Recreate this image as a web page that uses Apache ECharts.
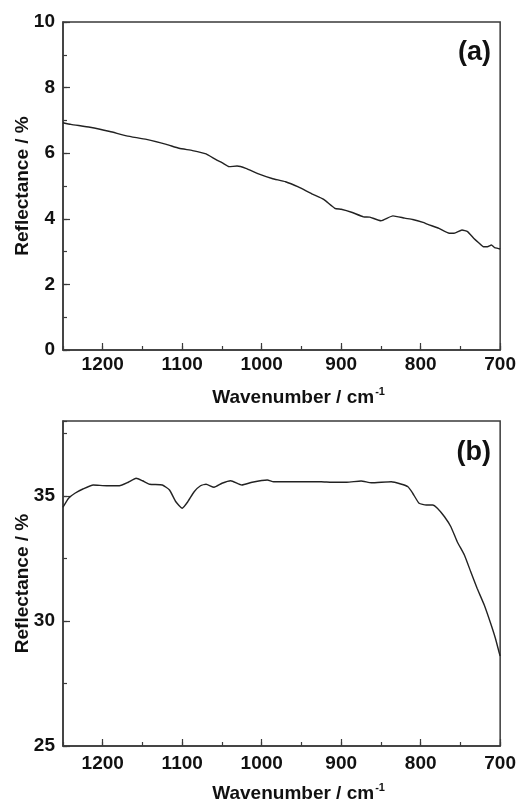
<!DOCTYPE html>
<html>
<head>
<meta charset="utf-8">
<title>Reflectance spectra</title>
<script src="https://cdn.jsdelivr.net/npm/echarts@6/dist/echarts.min.js"></script>
<style>
    html, body { margin: 0; padding: 0; background: #fff; }
    #chart { width: 519px; height: 805px; }
</style>
</head>
<body>
<div id="chart"></div>
<script>
// (a) 光谱 — 波数 / 反射率
var wavenumberA = [1250, 1240, 1216, 1191, 1170, 1145, 1120, 1104, 1087, 1070, 1058, 1050, 1041, 1031, 1020, 1004,
    987, 970, 954, 937, 922, 908, 900, 887, 872, 864, 850, 835, 820, 810, 797, 791, 777, 764, 758, 748, 741,
    733, 727, 721, 716, 711, 707, 703, 700];
var reflectanceA = [6.93, 6.88, 6.79, 6.66, 6.53, 6.42, 6.27, 6.15, 6.08, 5.98, 5.81, 5.71, 5.59, 5.61, 5.54, 5.37,
    5.23, 5.13, 4.97, 4.76, 4.59, 4.32, 4.29, 4.20, 4.06, 4.05, 3.94, 4.09, 4.02, 3.98, 3.89, 3.83, 3.71, 3.56, 3.56, 3.66, 3.61,
    3.40, 3.27, 3.15, 3.15, 3.20, 3.12, 3.10, 3.08];

// (b) 光谱
var wavenumberB = [1250, 1243, 1235, 1225, 1212, 1195, 1179, 1168, 1158, 1150, 1141, 1125, 1116, 1108, 1100, 1093,
    1085, 1077, 1070, 1060, 1050, 1039, 1025, 1012, 993, 985, 954, 925, 912, 893, 875, 862, 837, 825, 816, 810,
    802, 793, 785, 779, 770, 762, 754, 745, 737, 729, 720, 712, 706, 701, 700];
var reflectanceB = [34.55, 34.91, 35.11, 35.28, 35.44, 35.41, 35.41, 35.55, 35.71, 35.61, 35.47, 35.44, 35.24, 34.77, 34.51, 34.77,
    35.17, 35.41, 35.47, 35.35, 35.51, 35.61, 35.44, 35.55, 35.64, 35.57, 35.57, 35.57, 35.55, 35.55, 35.60, 35.53, 35.57, 35.48, 35.37, 35.11,
    34.71, 34.64, 34.64, 34.51, 34.17, 33.77, 33.17, 32.64, 31.97, 31.31, 30.64, 29.91, 29.31, 28.71, 28.60];

var panelLabels = ['(a)', '(b)'];

var FONT = "'Liberation Sans', Arial, sans-serif";
var INK = '#111';
var FRAME = '#3a3a3a';

function zip(xs, ys) {
    var out = [];
    for (var i = 0; i < xs.length; i++) {
        out.push([xs[i], ys[i]]);
    }
    return out;
}

// 不要千位分隔符
function plain(v) {
    return String(v);
}

/**
 * 主刻度轴 (带标签)
 */
function majorX(gridIndex, labelMargin) {
    return {
        type: 'value', gridIndex: gridIndex, position: 'bottom',
        min: 700, max: 1250, interval: 100, inverse: true,
        name: '{n|Wavenumber / cm}{s|-1}', nameLocation: 'middle', nameGap: 36, nameMoveOverlap: false,
        nameTextStyle: {
            padding: [0, 0, 0, 34],
            rich: {
                n: {fontFamily: FONT, fontSize: 19, fontWeight: 'bold', color: INK},
                s: {fontFamily: FONT, fontSize: 11, fontWeight: 'bold', color: INK, padding: [0, 0, 12, 1]}
            }
        },
        axisLine: {show: true, lineStyle: {color: FRAME, width: 1.5}},
        axisTick: {show: true, inside: true, length: 7, lineStyle: {color: FRAME, width: 1.2}},
        axisLabel: {fontFamily: FONT, fontSize: 19, fontWeight: 'bold', color: INK, margin: labelMargin, showMaxLabel: false, formatter: plain},
        splitLine: {show: false}
    };
}

function minorX(gridIndex) {
    return {
        type: 'value', gridIndex: gridIndex, position: 'bottom',
        min: 700, max: 1250, interval: 50, inverse: true,
        axisLine: {show: false},
        axisTick: {show: true, inside: true, length: 4, lineStyle: {color: FRAME, width: 1.2}},
        axisLabel: {show: false},
        splitLine: {show: false}
    };
}

function majorY(gridIndex, min, max, interval) {
    return {
        type: 'value', gridIndex: gridIndex, position: 'left',
        min: min, max: max, interval: interval,
        name: 'Reflectance / %', nameLocation: 'middle', nameGap: 31, nameMoveOverlap: false,
        nameTextStyle: {fontFamily: FONT, fontSize: 19, fontWeight: 'bold', color: INK},
        axisLine: {show: true, lineStyle: {color: FRAME, width: 1.5}},
        axisTick: {show: true, inside: true, length: 7, lineStyle: {color: FRAME, width: 1.2}},
        axisLabel: {fontFamily: FONT, fontSize: 19, fontWeight: 'bold', color: INK, margin: 8, showMaxLabel: max % interval === 0, formatter: plain},
        splitLine: {show: false}
    };
}

function minorY(gridIndex, min, max, interval) {
    return {
        type: 'value', gridIndex: gridIndex, position: 'left',
        min: min, max: max, interval: interval,
        axisLine: {show: false},
        axisTick: {show: true, inside: true, length: 4, lineStyle: {color: FRAME, width: 1.2}},
        axisLabel: {show: false},
        splitLine: {show: false}
    };
}

function reflectanceChart() {
    var myChart = echarts.init(document.getElementById('chart'), null, {renderer: 'canvas'});
    var option = {
        backgroundColor: '#fff',
        animation: false,
        title: [
            {text: panelLabels[0], right: 28, top: 39, padding: 0,
                textStyle: {fontFamily: FONT, fontSize: 27, fontWeight: 'bold', color: INK}},
            {text: panelLabels[1], right: 28, top: 439, padding: 0,
                textStyle: {fontFamily: FONT, fontSize: 27, fontWeight: 'bold', color: INK}}
        ],
        grid: [
            {left: 63, top: 22, width: 439, height: 328, show: true, borderColor: FRAME, borderWidth: 1.5, backgroundColor: 'transparent'},
            {left: 63, top: 421, width: 440, height: 325, show: true, borderColor: FRAME, borderWidth: 1.5, backgroundColor: 'transparent'}
        ],
        xAxis: [majorX(0, 5), minorX(0), majorX(1, 8), minorX(1)],
        yAxis: [majorY(0, 0, 10, 2), minorY(0, 0, 10, 1), majorY(1, 25, 38, 5), minorY(1, 25, 38, 2.5)],
        series: [
            {
                name: '(a)', type: 'line', xAxisIndex: 0, yAxisIndex: 0,
                data: zip(wavenumberA, reflectanceA),
                showSymbol: false, smooth: 0.15,
                lineStyle: {color: '#222', width: 1.4}
            },
            {
                name: '(b)', type: 'line', xAxisIndex: 2, yAxisIndex: 2,
                data: zip(wavenumberB, reflectanceB),
                showSymbol: false, smooth: 0.15,
                lineStyle: {color: '#222', width: 1.4}
            }
        ]
    };
    myChart.setOption(option, true);
}

reflectanceChart();
</script>
</body>
</html>
